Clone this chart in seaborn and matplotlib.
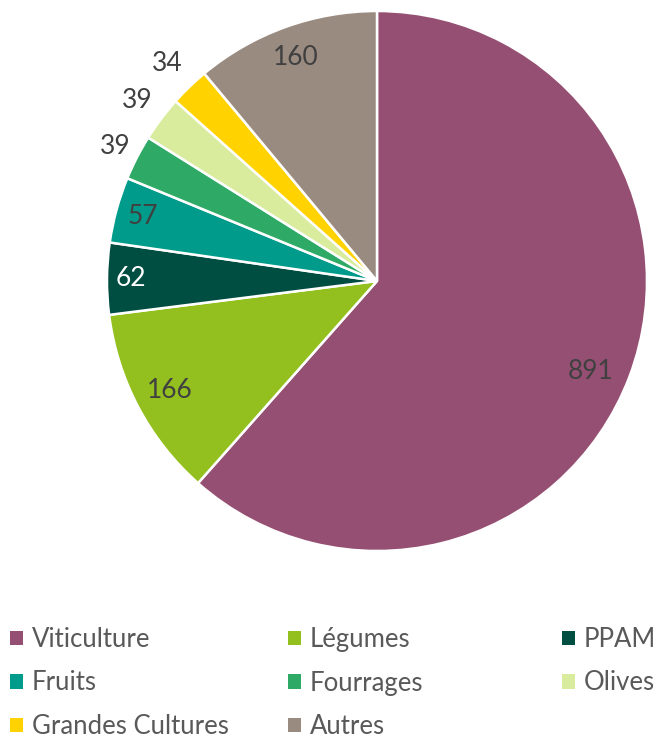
import matplotlib
matplotlib.use("Agg")
import matplotlib.pyplot as plt
from matplotlib.patches import Patch
import numpy as np
import seaborn as sns

# data
categories = ["Viticulture", "Légumes", "PPAM", "Fruits", "Fourrages",
              "Olives", "Grandes Cultures", "Autres"]
values = [891, 166, 62, 57, 39, 39, 34, 160]
colors = ["#954F72", "#93C01F", "#004D42", "#009B8A", "#2EAA66",
          "#D9EC9D", "#FFD200", "#9A8B81"]

# label styling (inside / outside wedge)
label_dist = [0.86, 0.87, 0.91, 0.90, 1.09, 1.11, 1.12, 0.88]
label_turn = [2.3, 0, 0, 0, 0, 0, 0, 0]  # small angular nudge, degrees
label_color = ["#404040", "#404040", "white", "#404040", "#404040",
               "#404040", "#404040", "#404040"]

sns.set_theme(style="white")
plt.rcParams["font.family"] = ["Lato", "DejaVu Sans"]

fig = plt.figure(figsize=(6.61, 7.42), dpi=100)
ax = fig.add_axes([107 / 661, 1 - 551 / 742, 540 / 661, 540 / 742])

wedges, _ = ax.pie(values, colors=colors, startangle=90, counterclock=False,
                   wedgeprops=dict(edgecolor="white", linewidth=1.8))
ax.set_xlim(-1, 1)
ax.set_ylim(-1, 1)
ax.set_aspect("equal")

total = sum(values)
cum = np.cumsum([0] + values)
for i, v in enumerate(values):
    mid = (cum[i] + v / 2) / total * 360 + label_turn[i]
    ang = np.deg2rad(90 - mid)
    r = label_dist[i]
    ax.text(r * np.cos(ang), r * np.sin(ang), str(v), ha="center",
            va="center", fontsize=19, color=label_color[i])

# legend: three equally spaced columns
cols = [[0, 3, 6], [1, 4, 7], [2, 5]]
col_x = [10, 288, 562]
for idx, x in zip(cols, col_x):
    handles = [Patch(facecolor=colors[i], edgecolor="none") for i in idx]
    fig.legend(handles, [categories[i] for i in idx], loc="upper left",
               bbox_to_anchor=(x / 661, 1 - 627 / 742), frameon=False,
               borderpad=0, borderaxespad=0, fontsize=18.5,
               handlelength=0.5, handleheight=0.5, handletextpad=0.35,
               labelspacing=0.72, labelcolor="#595959")

fig.savefig("out.png", dpi=100)
